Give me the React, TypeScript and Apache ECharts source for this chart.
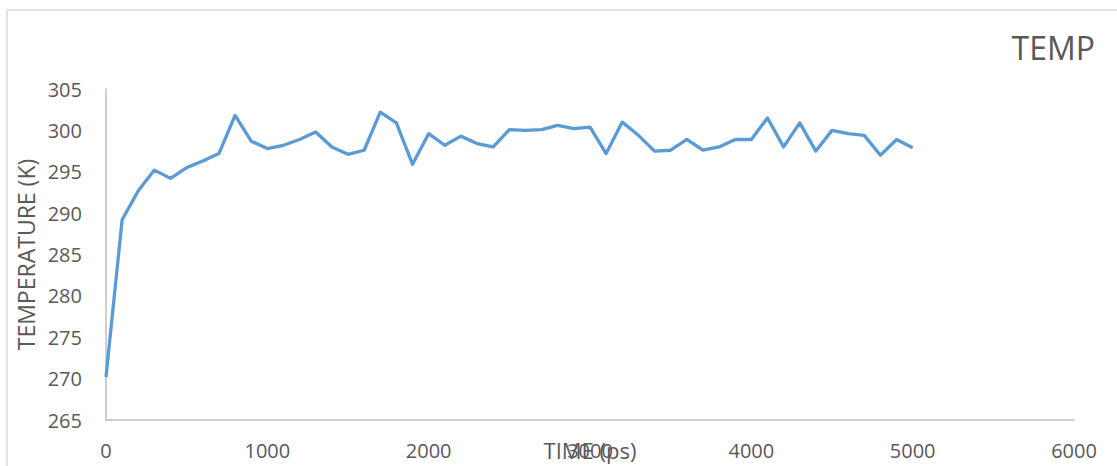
import React, { useEffect, useRef } from "react";
import * as echarts from "echarts";

// Simulation time (ps), sampled every 100 ps
const timePs: number[] = [
  0, 100, 200, 300, 400, 500, 600, 700, 800, 900,
  1000, 1100, 1200, 1300, 1400, 1500, 1600, 1700, 1800, 1900,
  2000, 2100, 2200, 2300, 2400, 2500, 2600, 2700, 2800, 2900,
  3000, 3100, 3200, 3300, 3400, 3500, 3600, 3700, 3800, 3900,
  4000, 4100, 4200, 4300, 4400, 4500, 4600, 4700, 4800, 4900,
  5000,
];

// Temperature (K) at each time step
const temperatureK: number[] = [
  270.2, 289.2, 292.7, 295.2, 294.2, 295.5, 296.3, 297.2, 301.8, 298.7,
  297.8, 298.2, 298.9, 299.8, 298.0, 297.1, 297.6, 302.2, 300.9, 295.9,
  299.6, 298.2, 299.3, 298.4, 298.0, 300.1, 300.0, 300.1, 300.6, 300.2,
  300.4, 297.2, 301.0, 299.4, 297.5, 297.6, 298.9, 297.6, 298.0, 298.9,
  298.9, 301.5, 298.0, 300.9, 297.5, 300.0, 299.6, 299.4, 297.0, 298.9,
  297.9,
];

const yTicks = { min: 265, max: 305, step: 5 };
const xTicks = { min: 0, max: 6000, step: 1000 };

const TEXT = "#595959";
const FONT = "'Open Sans', 'Noto Sans', sans-serif";

export default function App() {
  const ref = useRef<HTMLDivElement>(null);

  useEffect(() => {
    if (!ref.current) return;
    const chart = echarts.init(ref.current, undefined, { renderer: "svg" });
    chart.setOption({
      animation: false,
      backgroundColor: "#ffffff",
      textStyle: { fontFamily: FONT, color: TEXT },
      title: {
        text: "TEMP",
        right: 17,
        top: 26,
        textStyle: { fontFamily: FONT, fontSize: 32, fontWeight: "normal", color: TEXT },
      },
      graphic: [
        {
          type: "rect",
          shape: { x: 7, y: 10, width: 1130, height: 470 },
          style: { fill: "none", stroke: "#d9d9d9", lineWidth: 1.5 },
          silent: true,
          z: -1,
        },
      ],
      grid: {
        left: 106,
        right: 43,
        top: 89,
        bottom: 46,
        containLabel: false,
        outerBoundsMode: "none",
      },
      xAxis: {
        type: "value",
        min: xTicks.min,
        max: xTicks.max,
        interval: xTicks.step,
        name: "TIME (ps)",
        nameLocation: "middle",
        nameGap: 19,
        nameMoveOverlap: false,
        nameTextStyle: { fontFamily: FONT, fontSize: 22, color: TEXT, verticalAlign: "top" },
        axisLine: { show: true, lineStyle: { color: "#bfbfbf", width: 1.5 } },
        axisTick: { show: false },
        splitLine: { show: false },
        axisLabel: {
          margin: 20,
          fontFamily: FONT,
          fontSize: 20,
          color: TEXT,
          formatter: (v: number) => String(v),
        },
      },
      yAxis: {
        type: "value",
        min: yTicks.min,
        max: yTicks.max,
        interval: yTicks.step,
        name: "TEMPERATURE (K)",
        nameLocation: "middle",
        nameGap: 69,
        nameMoveOverlap: false,
        nameTextStyle: { fontFamily: FONT, fontSize: 23, color: TEXT },
        axisLine: { show: true, lineStyle: { color: "#bfbfbf", width: 1.5 } },
        axisTick: { show: false },
        splitLine: { show: false },
        axisLabel: {
          margin: 24,
          fontFamily: FONT,
          fontSize: 20,
          color: TEXT,
          formatter: (v: number) => String(v),
        },
      },
      series: [
        {
          type: "line",
          data: timePs.map((t, i) => [t, temperatureK[i]]),
          showSymbol: false,
          symbol: "none",
          lineStyle: { color: "#5b9bd5", width: 3.3, join: "round" },
          itemStyle: { color: "#5b9bd5" },
        },
      ],
    });
    return () => chart.dispose();
  }, []);

  return (
    <div
      ref={ref}
      style={{ position: "fixed", left: 0, top: 0, width: 1117, height: 466 }}
    />
  );
}
